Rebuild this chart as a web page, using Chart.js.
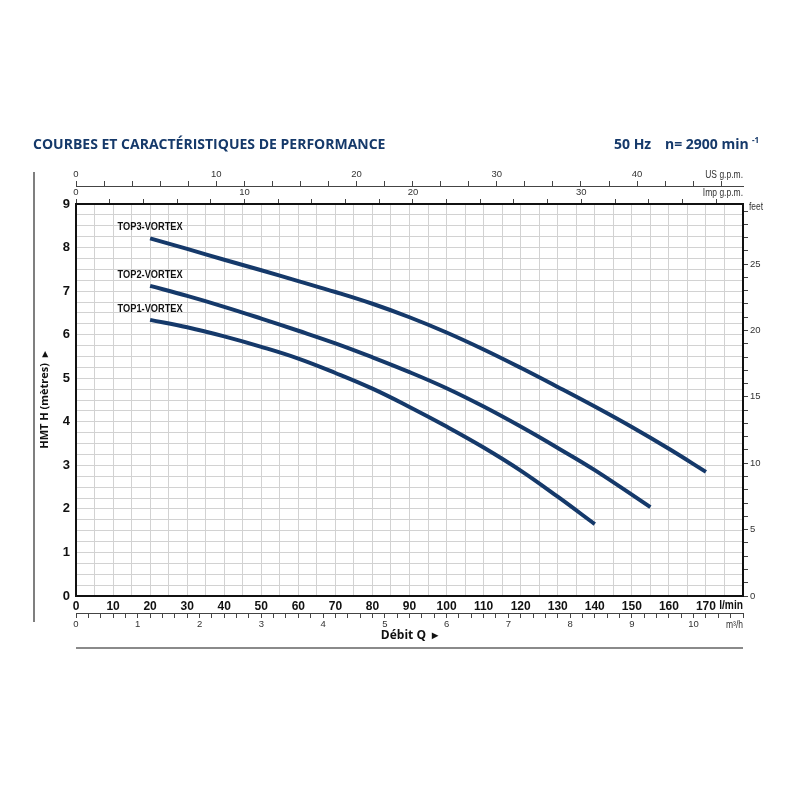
<!DOCTYPE html>
<html>
<head>
<meta charset="utf-8">
<script src="https://cdn.jsdelivr.net/npm/chart.js@4/dist/chart.umd.min.js"></script>
<style>
  body { margin: 0; background: #fff; }
  canvas { display: block; }
</style>
</head>
<body>
<canvas id="pumpChart" width="800" height="800"></canvas>
<script>
// values (flow in l/min, head in metres)
var flowTop3 = [20, 30, 40, 50, 60, 70, 80, 90, 100, 110, 120, 130, 140, 150, 160, 170];
var headTop3 = [8.21, 7.97, 7.72, 7.48, 7.23, 6.98, 6.71, 6.40, 6.05, 5.66, 5.24, 4.80, 4.35, 3.88, 3.38, 2.85];

var flowTop2 = [20, 30, 40, 50, 60, 70, 80, 90, 100, 110, 120, 130, 140, 155];
var headTop2 = [7.12, 6.89, 6.64, 6.37, 6.09, 5.80, 5.48, 5.14, 4.77, 4.35, 3.89, 3.40, 2.89, 2.04];

var flowTop1 = [20, 30, 40, 50, 60, 70, 80, 90, 100, 110, 120, 130, 140];
var headTop1 = [6.34, 6.17, 5.96, 5.72, 5.45, 5.12, 4.76, 4.34, 3.89, 3.41, 2.88, 2.28, 1.65];

var seriesNames = ["TOP3-VORTEX", "TOP2-VORTEX", "TOP1-VORTEX"];

// axis ranges
var flowMax = 180;      // l/min
var headMax = 9;        // metres
var lpmPerUsGpm = 3.78541;
var lpmPerImpGpm = 4.54609;
var metresPerFoot = 0.3048;

var navy = "#15396a";
var sans = "'Liberation Sans', Arial, sans-serif";

function pts(xs, ys) {
  var out = [];
  for (var i = 0; i < xs.length; i++) out.push({x: xs[i], y: ys[i]});
  return out;
}

function isWhole(v, n) {
  var r = Math.round(v / n) * n;
  return Math.abs(v - r) < 1e-6;
}

function fixSize(prop, size) {
  return function (s) {
    s[prop] = size;
    s.paddingLeft = 0; s.paddingRight = 0; s.paddingTop = 0; s.paddingBottom = 0;
  };
}

// condensed text, like the narrow face of the original sheet
function narrowText(ctx, txt, x, y, squeeze) {
  ctx.save();
  ctx.translate(x, y);
  ctx.scale(squeeze, 1);
  ctx.fillText(txt, 0, 0);
  ctx.restore();
}

var secondaryGrid = { drawOnChartArea: false, drawTicks: true, tickLength: 5, color: "#444", lineWidth: 1 };
var smallFont = { family: sans, size: 9.5 };
var boldTick = { family: sans, size: 12, weight: "bold" };

var extras = {
  id: "extras",
  afterDraw: function (chart) {
    var ctx = chart.ctx;
    var a = chart.chartArea;
    ctx.save();

    // header
    ctx.fillStyle = navy;
    ctx.textBaseline = "middle";
    ctx.textAlign = "left";
    ctx.font = "bold 14px 'Open Sans', sans-serif";
    ctx.fillText("COURBES ET CARACTÉRISTIQUES DE PERFORMANCE", 33, 145);
    ctx.fillText("50 Hz", 614, 145);
    ctx.fillText("n= 2900 min", 665, 145);
    ctx.font = "bold 8px 'Open Sans', sans-serif";
    ctx.fillText("-1", 752, 141);

    // frame lines
    ctx.strokeStyle = "#555";
    ctx.lineWidth = 1.5;
    ctx.beginPath();
    ctx.moveTo(34, 172);
    ctx.lineTo(34, 622);
    ctx.stroke();
    ctx.strokeStyle = "#8a8a8a";
    ctx.lineWidth = 2;
    ctx.beginPath();
    ctx.moveTo(a.left, 648);
    ctx.lineTo(a.right, 648);
    ctx.stroke();

    // unit labels
    ctx.fillStyle = "#333";
    ctx.font = "10px " + sans;
    ctx.textAlign = "right";
    narrowText(ctx, "US g.p.m.", a.right, chart.scales.usg.bottom - 11, 0.85);
    narrowText(ctx, "Imp g.p.m.", a.right, chart.scales.impg.bottom - 11, 0.85);
    narrowText(ctx, "m³/h", a.right, chart.scales.m3h.top + 12, 0.85);
    ctx.textAlign = "left";
    narrowText(ctx, "feet", a.right + 6, a.top + 3, 0.85);
    ctx.fillStyle = "#111";
    ctx.font = "bold 12px " + sans;
    ctx.textAlign = "right";
    narrowText(ctx, "l/min", a.right, chart.scales.x.top + 10, 0.85);

    // curve names above the first point of each curve
    var xs = chart.scales.x, ys = chart.scales.y;
    var firsts = [[flowTop3[0], headTop3[0]], [flowTop2[0], headTop2[0]], [flowTop1[0], headTop1[0]]];
    ctx.font = "bold 11px " + sans;
    ctx.textAlign = "center";
    ctx.fillStyle = "#111";
    for (var i = 0; i < seriesNames.length; i++) {
      narrowText(ctx, seriesNames[i], xs.getPixelForValue(firsts[i][0]), ys.getPixelForValue(firsts[i][1]) - 11, 0.84);
    }
    ctx.restore();
  }
};

function lineSet(label, xs, ys) {
  return {
    label: label,
    data: pts(xs, ys),
    borderColor: navy,
    borderWidth: 4,
    pointRadius: 0,
    fill: false,
    tension: 0.4,
    borderCapStyle: "butt"
  };
}

var chart = new Chart(document.getElementById("pumpChart"), {
  type: "line",
  data: {
    datasets: [
      lineSet(seriesNames[0], flowTop3, headTop3),
      lineSet(seriesNames[1], flowTop2, headTop2),
      lineSet(seriesNames[2], flowTop1, headTop1)
    ]
  },
  options: {
    responsive: false,
    animation: false,
    events: [],
    layout: { padding: { top: 168, bottom: 155, left: 36, right: 22 } },
    plugins: { legend: { display: false }, tooltip: { enabled: false } },
    scales: {
      x: {
        type: "linear", axis: "x", position: "bottom", weight: 0,
        min: 0, max: flowMax,
        grid: { color: "#d2d2d2", lineWidth: 1, drawTicks: false },
        border: { color: "#111", width: 2 },
        ticks: {
          stepSize: 5, autoSkip: false, maxRotation: 0, padding: 3,
          color: "#111", font: boldTick,
          callback: function (v) { return (v % 10 === 0 && v <= 170) ? String(v) : ""; }
        },
        afterFit: fixSize("height", 17)
      },
      m3h: {
        type: "linear", axis: "x", position: "bottom", weight: 1,
        min: 0, max: flowMax * 0.06,
        grid: secondaryGrid,
        border: { color: "#444", width: 1 },
        ticks: {
          stepSize: 0.2, autoSkip: false, maxRotation: 0, padding: 1, includeBounds: false,
          color: "#333", font: smallFont,
          callback: function (v) { return isWhole(v, 1) ? String(Math.round(v)) : ""; }
        },
        title: { display: true, text: "Débit Q  ▸", color: "#111", font: { family: "'Open Sans', sans-serif", size: 12, weight: "bold" }, padding: { top: 2, bottom: 2 } },
        afterFit: fixSize("height", 32)
      },
      impg: {
        type: "linear", axis: "x", position: "top", weight: 0,
        min: 0, max: flowMax / lpmPerImpGpm,
        grid: secondaryGrid,
        border: { color: "#111", width: 2 },
        ticks: {
          stepSize: 2, autoSkip: false, maxRotation: 0, padding: 1, includeBounds: false,
          color: "#333", font: smallFont,
          callback: function (v) { return (v % 10 === 0 && v <= 30) ? String(v) : ""; }
        },
        afterFit: fixSize("height", 18)
      },
      usg: {
        type: "linear", axis: "x", position: "top", weight: 1,
        min: 0, max: flowMax / lpmPerUsGpm,
        grid: secondaryGrid,
        border: { color: "#444", width: 1 },
        ticks: {
          stepSize: 2, autoSkip: false, maxRotation: 0, padding: 1, includeBounds: false,
          color: "#333", font: smallFont,
          callback: function (v) { return (v % 10 === 0 && v <= 40) ? String(v) : ""; }
        },
        afterFit: fixSize("height", 18)
      },
      y: {
        type: "linear", axis: "y", position: "left",
        min: 0, max: headMax,
        grid: { color: "#d2d2d2", lineWidth: 1, drawTicks: false },
        border: { color: "#111", width: 2 },
        ticks: {
          stepSize: 0.25, autoSkip: false, padding: 6,
          color: "#111", font: { family: sans, size: 13, weight: "bold" },
          callback: function (v) { return isWhole(v, 1) ? String(Math.round(v)) : ""; }
        },
        title: { display: true, text: "HMT H (mètres)  ▸", color: "#111", font: { family: "'Open Sans', sans-serif", size: 11, weight: "bold" }, padding: { top: 2, bottom: 2 } },
        afterFit: fixSize("width", 40)
      },
      ft: {
        type: "linear", axis: "y", position: "right",
        min: 0, max: headMax / metresPerFoot,
        grid: secondaryGrid,
        border: { color: "#111", width: 2 },
        ticks: {
          stepSize: 1, autoSkip: false, padding: 2, includeBounds: false,
          color: "#333", font: smallFont,
          callback: function (v) { return v % 5 === 0 ? String(v) : ""; }
        },
        afterFit: fixSize("width", 35)
      }
    }
  },
  plugins: [extras]
});
</script>
</body>
</html>
